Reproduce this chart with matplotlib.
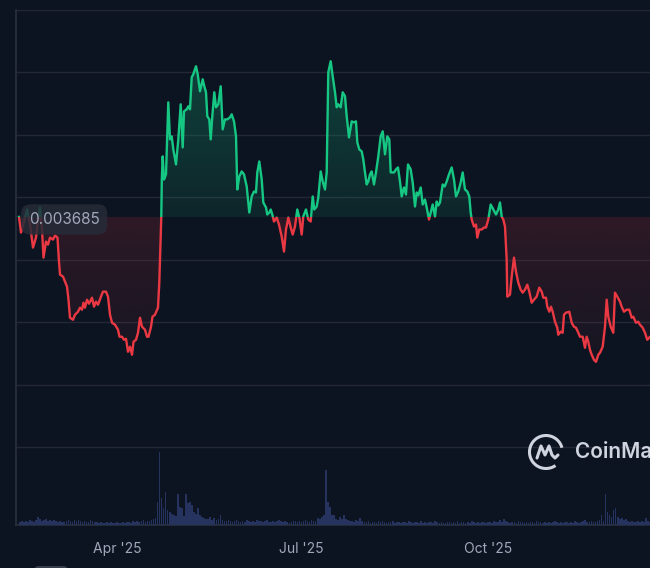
import datetime as dt

import numpy as np
import matplotlib
matplotlib.use("Agg")
import matplotlib.pyplot as plt
import matplotlib.dates as mdates
from matplotlib.patches import Rectangle, PathPatch, Arc, FancyBboxPatch
from matplotlib.path import Path

# --- datos (día del año 2025, precio) ---
days = [
    41.65, 42.64, 44.12, 45.60, 47.08, 48.56, 50.04, 51.03, 52.01, 53.00,
    53.74, 54.97, 55.96, 56.95, 58.42, 59.41, 60.64, 61.38, 61.88, 63.36,
    65.33, 66.07, 66.81, 68.29, 69.28, 70.76, 71.74, 72.73, 73.47, 74.21,
    75.20, 76.18, 77.66, 78.65, 79.64, 80.62, 82.10, 83.09, 84.57, 85.56,
    86.54, 87.53, 89.01, 90.49, 91.23, 92.46, 93.45, 94.44, 95.42, 96.41,
    97.40, 98.14, 99.37, 100.36, 101.34, 102.33, 103.81, 104.80, 105.54, 106.77,
    107.51, 108.74, 110.22, 110.86, 111.46, 111.85, 112.10, 112.54, 113.18, 114.17,
    114.56, 115.30, 116.14, 116.98, 117.77, 119.10, 120.24, 121.42, 122.41, 123.05,
    124.38, 125.17, 126.01, 126.85, 127.64, 128.97, 129.81, 130.94, 132.27, 133.06,
    133.90, 134.54, 135.53, 136.22, 137.01, 137.99, 138.83, 139.97, 141.15, 142.14,
    143.27, 144.41, 145.74, 146.58, 147.71, 148.70, 149.34, 150.33, 151.51, 152.65,
    153.98, 155.26, 156.44, 157.58, 158.56, 159.21, 160.19, 161.38, 162.17, 163.50,
    164.14, 165.13, 165.82, 166.61, 167.44, 168.78, 169.91, 171.24, 172.38, 173.36,
    174.50, 175.68, 176.67, 177.80, 178.94, 179.92, 181.11, 181.90, 183.23, 184.36,
    185.55, 186.54, 187.32, 188.51, 189.30, 190.48, 191.47, 192.60, 193.44, 194.23,
    195.41, 196.40, 197.54, 198.37, 199.16, 200.35, 201.33, 202.47, 203.31, 204.44,
    205.77, 206.91, 207.89, 208.54, 209.52, 210.71, 211.50, 212.33, 213.17, 213.96,
    214.80, 215.64, 216.77, 217.76, 218.90, 220.08, 221.07, 222.20, 223.33, 224.32,
    225.02, 226.64, 227.63, 228.61, 229.60, 230.44, 231.57, 232.56, 233.55, 234.88,
    235.87, 237.00, 237.84, 238.63, 239.81, 240.80, 241.93, 242.77, 243.91, 244.75,
    245.73, 246.87, 247.70, 248.49, 249.33, 250.66, 251.65, 252.64, 253.77, 255.10,
    256.24, 257.22, 258.36, 259.54, 260.53, 261.66, 262.80, 263.79, 264.48, 264.97,
    266.10, 267.09, 267.73, 268.72, 269.90, 271.04, 272.02, 273.16, 274.34, 275.63,
    276.96, 278.09, 278.93, 279.77, 280.56, 281.40, 282.23, 282.53, 283.86, 284.70,
    285.84, 286.82, 287.96, 289.14, 290.13, 291.26, 292.40, 293.38, 294.57, 295.70,
    297.03, 298.32, 299.50, 300.29, 301.62, 302.26, 303.25, 304.09, 304.93, 306.06,
    307.20, 307.69, 308.87, 309.86, 310.50, 311.49, 313.12, 314.30, 315.43, 316.42,
    317.56, 318.39, 319.73, 320.86, 321.70, 322.49, 323.33, 324.17, 325.30, 326.29,
    327.42, 328.26, 329.59, 330.73, 331.57, 332.35, 333.54, 334.82, 335.66, 336.79,
    338.13, 338.96, 340.10, 341.43, 342.71, 343.90, 344.69, 346.02, 347.15, 347.99,
    349.32, 350.46, 351.59, 352.93, 355.88,
]
prices = [
    0.003685, 0.003435, 0.003611, 0.003804, 0.003563, 0.003194, 0.003354, 0.003611, 0.003836, 0.003483,
    0.003033, 0.003290, 0.003242, 0.003354, 0.003322, 0.003387, 0.003354, 0.002969, 0.002761, 0.002729,
    0.002568, 0.002359, 0.002070, 0.002038, 0.002119, 0.002167, 0.002231, 0.002199, 0.002311, 0.002231,
    0.002359, 0.002295, 0.002391, 0.002247, 0.002327, 0.002279, 0.002408, 0.002488, 0.002488, 0.002408,
    0.002119, 0.001990, 0.001958, 0.001878, 0.001766, 0.001766, 0.001717, 0.001733, 0.001525, 0.001605,
    0.001477, 0.001685, 0.001717, 0.001830, 0.002070, 0.001926, 0.001878, 0.001766, 0.001766, 0.001926,
    0.002087, 0.002119, 0.002231, 0.002632, 0.003242, 0.003692, 0.004285, 0.004655, 0.004285, 0.004366,
    0.004767, 0.005521, 0.004927, 0.004976, 0.004767, 0.004526, 0.004927, 0.005489, 0.004799, 0.005377,
    0.005409, 0.005457, 0.005409, 0.005922, 0.005971, 0.006099, 0.005971, 0.005698, 0.005890, 0.005778,
    0.005682, 0.005297, 0.005248, 0.004927, 0.005297, 0.005682, 0.005441, 0.005489, 0.005778, 0.005088,
    0.005248, 0.005248, 0.005280, 0.005329, 0.005216, 0.004976, 0.004125, 0.004334, 0.004414, 0.004366,
    0.004173, 0.003756, 0.004013, 0.004093, 0.004077, 0.004398, 0.004574, 0.004285, 0.003916, 0.003836,
    0.003724, 0.003756, 0.003804, 0.003724, 0.003611, 0.003675, 0.003563, 0.003371, 0.003130, 0.003483,
    0.003675, 0.003515, 0.003403, 0.003531, 0.003804, 0.003675, 0.003403, 0.003692, 0.003804, 0.003643,
    0.003611, 0.004013, 0.003804, 0.003852, 0.003996, 0.004414, 0.004253, 0.004125, 0.004398, 0.006003,
    0.006179, 0.005939, 0.005682, 0.005441, 0.005489, 0.005441, 0.005682, 0.005618, 0.005297, 0.004959,
    0.005216, 0.005200, 0.005216, 0.004879, 0.004767, 0.004735, 0.004606, 0.004398, 0.004205, 0.004253,
    0.004366, 0.004414, 0.004205, 0.004398, 0.004655, 0.004976, 0.005056, 0.004687, 0.004976, 0.004927,
    0.004398, 0.004398, 0.004446, 0.004478, 0.004253, 0.004013, 0.004157, 0.004045, 0.004526, 0.004446,
    0.004237, 0.003852, 0.004077, 0.004029, 0.004157, 0.003884, 0.003964, 0.003836, 0.003643, 0.003756,
    0.003884, 0.003692, 0.003932, 0.003868, 0.003916, 0.004205, 0.004173, 0.004253, 0.004366, 0.004478,
    0.004285, 0.004013, 0.004093, 0.004237, 0.004398, 0.004125, 0.004093, 0.004013, 0.003756, 0.003643,
    0.003531, 0.003563, 0.003354, 0.003483, 0.003483, 0.003515, 0.003515, 0.003643, 0.003884, 0.003804,
    0.003724, 0.003804, 0.003916, 0.003692, 0.003643, 0.003531, 0.003001, 0.002408, 0.002440, 0.002729,
    0.003033, 0.002809, 0.002632, 0.002520, 0.002472, 0.002520, 0.002600, 0.002488, 0.002311, 0.002359,
    0.002408, 0.002552, 0.002488, 0.002391, 0.002391, 0.002247, 0.002167, 0.002247, 0.002167, 0.002006,
    0.001910, 0.001798, 0.001846, 0.001830, 0.002119, 0.002151, 0.002167, 0.001990, 0.001926, 0.001910,
    0.001830, 0.001766, 0.001766, 0.001589, 0.001766, 0.001685, 0.001557, 0.001477, 0.001396, 0.001364,
    0.001477, 0.001509, 0.001605, 0.001926, 0.002359, 0.002087, 0.001926, 0.001830, 0.002472, 0.002408,
    0.002327, 0.002247, 0.002167, 0.002199, 0.002199, 0.002070, 0.002087, 0.001990, 0.002006, 0.001958,
    0.001910, 0.001830, 0.001717, 0.001766, 0.001717,
]
base_price = 0.003685

# volumen diario desde el día 42 (unidades arbitrarias)
vol_start_day = 42
volumes = [
    3, 4, 3, 4, 3, 5, 4, 3, 5, 8,
    6, 4, 5, 6, 4, 5, 4, 5, 4, 3,
    4, 3, 3, 4, 5, 4, 3, 5, 4, 5,
    4, 3, 4, 3, 3, 5, 4, 3, 3, 2,
    3, 2, 2, 3, 2, 3, 2, 2, 3, 2,
    2, 3, 2, 3, 3, 2, 4, 3, 4, 3,
    4, 5, 3, 4, 4, 5, 6, 7, 23, 73,
    27, 17, 33, 15, 13, 11, 10, 9, 31, 18,
    17, 9, 31, 22, 23, 20, 13, 11, 17, 10,
    8, 7, 6, 6, 8, 5, 7, 5, 6, 10,
    5, 4, 4, 5, 4, 3, 4, 5, 4, 3,
    4, 3, 5, 4, 3, 4, 3, 5, 4, 4,
    3, 4, 5, 3, 3, 4, 3, 4, 5, 4,
    3, 4, 3, 2, 3, 4, 4, 3, 4, 3,
    4, 5, 4, 3, 5, 4, 4, 7, 6, 8,
    10, 55, 23, 18, 10, 10, 6, 5, 8, 6,
    10, 6, 5, 4, 4, 3, 5, 4, 7, 4,
    3, 3, 4, 2, 3, 3, 2, 4, 3, 4,
    3, 2, 3, 3, 4, 2, 3, 3, 2, 3,
    3, 2, 4, 3, 2, 3, 3, 2, 4, 2,
    3, 2, 3, 3, 2, 4, 3, 2, 3, 2,
    2, 3, 3, 2, 3, 2, 4, 2, 3, 3,
    2, 3, 2, 4, 3, 2, 3, 2, 3, 3,
    2, 3, 3, 2, 4, 3, 3, 5, 3, 6,
    4, 3, 2, 3, 3, 2, 4, 3, 3, 2,
    3, 2, 3, 3, 2, 4, 3, 3, 2, 3,
    2, 3, 2, 3, 4, 3, 2, 3, 2, 3,
    3, 2, 3, 2, 4, 3, 2, 3, 4, 5,
    3, 3, 4, 3, 3, 4, 5, 10, 4, 31,
    13, 10, 8, 15, 17, 8, 6, 7, 5, 6,
    4, 3, 4, 3, 3, 4, 3, 4, 3, 7,
    4, 3, 4, 3, 3,
]

BG = "#0d1421"
GRID = "#222836"
GREEN = "#16c784"
RED = "#ea3943"
TXT = "#a1a7bb"

plt.rcParams['font.family'] = ['Inter', 'DejaVu Sans']

t0 = mdates.date2num(dt.datetime(2025, 1, 1))
x = t0 + np.array(days)
y = np.array(prices)
xv = t0 + vol_start_day + np.arange(len(volumes))

fig = plt.figure(figsize=(6.5, 5.68), dpi=100, facecolor=BG)
ax = fig.add_axes([16 / 650, 43 / 568, 744 / 650, 515 / 568])
ax.set_facecolor(BG)
xmin, xmax = t0 + 40.17, t0 + 407.2
ymin, ymax = -0.00125, 0.007
ax.set_xlim(xmin, xmax)
ax.set_ylim(ymin, ymax)

ax.set_yticks(np.arange(0, 0.0071, 0.001))
ax.yaxis.grid(True, color=GRID, lw=1)
ax.tick_params(axis='y', length=0, labelleft=False)
ax.xaxis.set_major_locator(mdates.MonthLocator(bymonth=[1, 4, 7, 10]))
ax.xaxis.set_major_formatter(mdates.DateFormatter("%b '%y"))
ax.tick_params(axis='x', length=0, pad=12, labelsize=10, labelcolor=TXT)
for s in ['top', 'right']:
    ax.spines[s].set_visible(False)
for s in ['left', 'bottom']:
    ax.spines[s].set_color('#2a2f3c')
    ax.spines[s].set_linewidth(1.2)
ax.set_axisbelow(True)

# degradados de relleno
n = 256
g = np.zeros((n, 1, 4))
g[:, 0, :3] = matplotlib.colors.to_rgb(GREEN)
g[:, 0, 3] = np.linspace(0.26, 0.10, n)
im_g = ax.imshow(g, extent=[x[0], x[-1], base_price, 0.0062], aspect='auto',
                 origin='upper', zorder=2, interpolation='bilinear')
under = Path(np.vstack([[x[0], ymin], np.column_stack([x, y]), [x[-1], ymin]]))
im_g.set_clip_path(PathPatch(under, transform=ax.transData))

r = np.zeros((n, 1, 4))
r[:, 0, :3] = matplotlib.colors.to_rgb(RED)
r[:, 0, 3] = np.linspace(0.15, 0.04, n)
im_r = ax.imshow(r, extent=[x[0], x[-1], 0.0013, base_price], aspect='auto',
                 origin='upper', zorder=2, interpolation='bilinear')
over = Path(np.vstack([[x[0], ymax], np.column_stack([x, y]), [x[-1], ymax]]))
im_r.set_clip_path(PathPatch(over, transform=ax.transData))
ax.set_xlim(xmin, xmax)
ax.set_ylim(ymin, ymax)

# línea verde/roja cortada en el precio base
lg, = ax.plot(x, y, color=GREEN, lw=1.7, zorder=3, solid_joinstyle='round')
lg.set_clip_path(Rectangle((xmin, base_price), xmax - xmin, ymax - base_price,
                           transform=ax.transData))
lr, = ax.plot(x, y, color=RED, lw=1.7, zorder=3, solid_joinstyle='round')
lr.set_clip_path(Rectangle((xmin, ymin), xmax - xmin, base_price - ymin,
                           transform=ax.transData))

ax.text(t0 + 46.5, base_price - 0.00004, f"{base_price:.6f}", va='center', ha='left',
        fontsize=11, color=TXT, zorder=6,
        bbox=dict(boxstyle='round,pad=0.5,rounding_size=0.6', fc='#262b38',
                  ec='none', alpha=0.85))

# volumen
ax2 = ax.twinx()
ax2.bar(xv, volumes, width=0.8, color='#26335e', linewidth=0, zorder=1)
ax2.set_ylim(0, 515)
ax2.set_xlim(xmin, xmax)
ax2.axis('off')

# logo CoinMarketCap (cortado por el borde, como en la captura)
ov = fig.add_axes([0, 0, 1, 1], facecolor='none')
ov.set_xlim(0, 650)
ov.set_ylim(0, 568)
ov.axis('off')
logo_c = '#cfd4df'
cx, cy = 546, 568 - 452
ov.add_patch(Arc((cx, cy), 33, 33, theta1=15, theta2=305, color=logo_c, lw=2.2))
mx = [cx - 9, cx - 5, cx - 1, cx + 3, cx + 6, cx + 9, cx + 12]
my = [cy - 6, cy + 6, cy - 3, cy + 6, cy - 3, cy - 6, cy - 3]
ov.plot(mx, my, color=logo_c, lw=2.2, solid_joinstyle='round', solid_capstyle='round')
ov.text(575, cy, "CoinMarketCap", va='center', ha='left', fontsize=15,
        fontweight='semibold', color=logo_c)
ov.add_patch(FancyBboxPatch((34, -8), 34, 10, boxstyle='round,pad=0,rounding_size=5',
                            fc='#3a3f4c', ec='none'))

fig.savefig('out.png', dpi=100, facecolor=BG)
